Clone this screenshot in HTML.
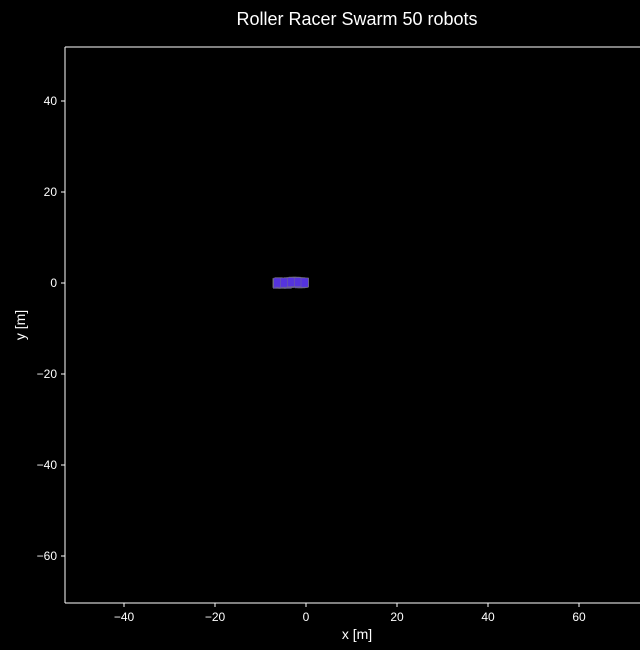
<!DOCTYPE html>
<html><head><meta charset="utf-8"><style>
html,body{margin:0;padding:0;background:#000;width:640px;height:650px;overflow:hidden}
text{font-family:"Liberation Sans","DejaVu Sans",sans-serif;fill:#fff}
</style></head><body>
<svg id="chart" width="640" height="650">
<rect width="640" height="650" fill="#000"/>
<text x="357" y="25" font-size="18" text-anchor="middle">Roller Racer Swarm 50 robots</text>
<g id="plot"></g>
<line x1="65" y1="47" x2="640" y2="47" stroke="#fff" stroke-width="1"/>
<line x1="65" y1="47" x2="65" y2="603" stroke="#fff" stroke-width="1"/>
<line x1="65" y1="603" x2="640" y2="603" stroke="#fff" stroke-width="1"/>
<text x="357" y="639" font-size="14" text-anchor="middle">x [m]</text>
<text transform="translate(25,325) rotate(-90)" font-size="14" text-anchor="middle">y [m]</text>
<g id="ticks"></g>
</svg>
<script>
const xTicks=[-40,-20,0,20,40,60];
const yTicks=[40,20,0,-20,-40,-60];
const robotX=[-6.5,-6.2,-5.9,-5.6,-5.3,-5.0,-4.7,-4.4,-4.1,-3.8,-3.5,-3.2,-2.9,-2.6,-2.3,-2.0,-1.7,-1.4,-1.1,-0.8,-0.5,-6.4,-5.8,-5.2,-4.6,-4.0,-3.4,-2.8,-2.2,-1.6,-1.0,-0.4,-6.0,-5.0,-4.0,-3.0,-2.0,-1.0,-0.2,-5.5,-4.5,-3.5,-2.5,-1.5,-0.6,-6.3,-4.8,-3.3,-1.8,-0.3];
const robotY=[0,0.1,-0.1,0,0.1,0,-0.1,0,0.1,0,0.2,0.1,0.3,0.2,0.3,0.2,0.1,0.2,0.1,0,0.1,-0.2,-0.1,-0.2,-0.1,-0.2,0,0.1,0,-0.1,-0.1,0,0.2,0.1,0.2,0.3,0.3,0.2,0.1,-0.1,0,0.1,0.2,0.1,0,0.1,0.1,0.2,0.2,0.1];
const X=v=>306+(v)*4.55, Y=v=>283-(v)*4.55;
const ns="http://www.w3.org/2000/svg";
const plot=document.getElementById('plot'), tk=document.getElementById('ticks');
robotX.forEach((x,i)=>{
 const r=document.createElementNS(ns,'rect');
 r.setAttribute('x',X(x-0.8));r.setAttribute('y',Y(robotY[i]+1));
 r.setAttribute('width',1.6*4.55);r.setAttribute('height',2*4.55);
 r.setAttribute('fill','#5533dd');r.setAttribute('stroke','#777');r.setAttribute('stroke-width','0.4');
 
 
 plot.appendChild(r);
});
xTicks.forEach(t=>{
 const l=document.createElementNS(ns,'line');
 l.setAttribute('x1',X(t));l.setAttribute('x2',X(t));l.setAttribute('y1',603);l.setAttribute('y2',607);l.setAttribute('stroke','#fff');
 
 
 tk.appendChild(l);
 const s=document.createElementNS(ns,'text');
 s.setAttribute('x',X(t));s.setAttribute('y',621);s.setAttribute('font-size','12');s.setAttribute('text-anchor','middle');
 s.textContent=t<0?'\u2212'+(-t):t;
 
 
 tk.appendChild(s);
});
yTicks.forEach(t=>{
 const l=document.createElementNS(ns,'line');
 l.setAttribute('x1',61);l.setAttribute('x2',65);l.setAttribute('y1',Y(t));l.setAttribute('y2',Y(t));l.setAttribute('stroke','#fff');
 
 
 tk.appendChild(l);
 const s=document.createElementNS(ns,'text');
 s.setAttribute('x',57);s.setAttribute('y',Y(t)+4);s.setAttribute('font-size','12');s.setAttribute('text-anchor','end');
 s.textContent=t<0?'\u2212'+(-t):t;
 
 
 tk.appendChild(s);
});
</script>
</body></html>
